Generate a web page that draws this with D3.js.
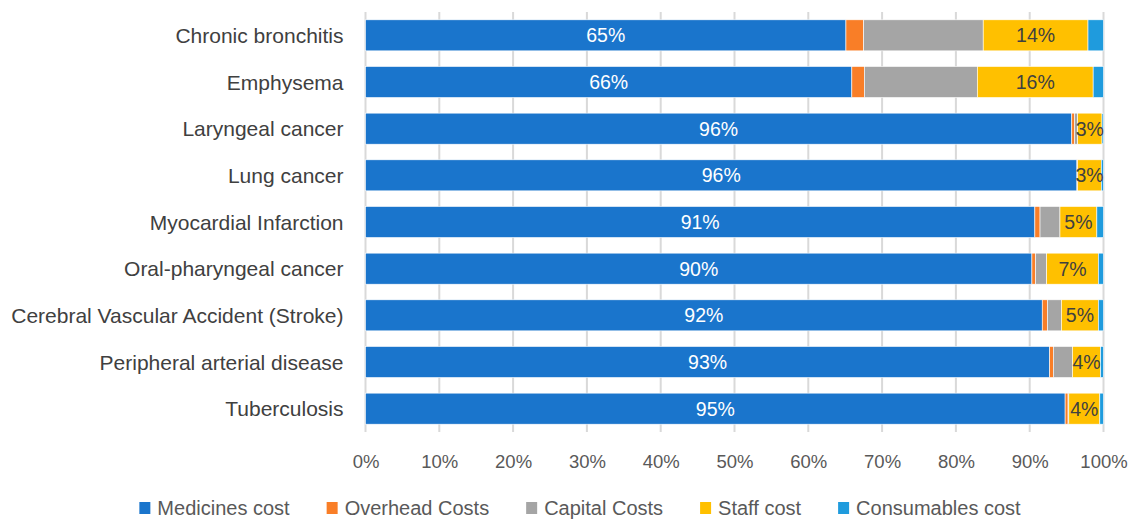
<!DOCTYPE html>
<html>
<head>
<meta charset="utf-8">
<script src="https://cdn.jsdelivr.net/npm/d3@7"></script>
<style>
  body { margin: 0; background: #fff; }
  text { font-family: "Liberation Sans", Arial, sans-serif; }
</style>
</head>
<body>
<svg id="chart"></svg>
<script>
var chartWidth = 1131;
var chartHeight = 522;
var padding = { top: 12, right: 27.5, bottom: 90, left: 365.5 };

var categories = [
  'Chronic bronchitis', 'Emphysema', 'Laryngeal cancer', 'Lung cancer',
  'Myocardial Infarction', 'Oral-pharyngeal cancer',
  'Cerebral Vascular Accident (Stroke)', 'Peripheral arterial disease', 'Tuberculosis'
];
var seriesNames = ['Medicines cost', 'Overhead Costs', 'Capital Costs', 'Staff cost', 'Consumables cost'];
var seriesColors = ['#1a75cc', '#f97e27', '#a5a5a5', '#ffc000', '#1f9bdd'];

var medicines   = [65.1, 65.9, 95.7, 96.4, 90.7, 90.3, 91.7, 92.7, 94.8];
var overhead    = [2.4, 1.7, 0.4, 0.1, 0.7, 0.5, 0.7, 0.5, 0.4];
var capital     = [16.2, 15.3, 0.4, 0.0, 2.7, 1.5, 1.9, 2.6, 0.1];
var staff       = [14.2, 15.7, 3.3, 3.2, 5.0, 7.0, 5.0, 3.8, 4.2];
var consumables = [2.1, 1.4, 0.2, 0.3, 0.9, 0.7, 0.7, 0.4, 0.5];

var medLabels   = ['65%', '66%', '96%', '96%', '91%', '90%', '92%', '93%', '95%'];
var staffLabels = ['14%', '16%', '3%', '3%', '5%', '7%', '5%', '4%', '4%'];

var tickValues = [0, 10, 20, 30, 40, 50, 60, 70, 80, 90, 100];

var rows = categories.map(function(c, i) {
  return { cat: c, vals: [medicines[i], overhead[i], capital[i], staff[i], consumables[i]],
           labels: [medLabels[i], null, null, staffLabels[i], null] };
});

var svg = d3.select('#chart')
    .attr('width', chartWidth)
    .attr('height', chartHeight);

var xScale = d3.scaleLinear()
    .domain([0, 100])
    .range([padding.left, chartWidth - padding.right]);

var yScale = d3.scaleBand()
    .domain(categories)
    .range([padding.top, chartHeight - padding.bottom])
    .paddingInner(0.335)
    .paddingOuter(0.1675);

// gridlines
svg.append('g')
  .selectAll('line')
  .data(tickValues)
  .enter()
  .append('line')
    .attr('x1', function(d) { return xScale(d); })
    .attr('x2', function(d) { return xScale(d); })
    .attr('y1', padding.top)
    .attr('y2', chartHeight - padding.bottom)
    .attr('stroke', '#d9d9d9')
    .attr('stroke-width', 2);

// bars
var rowG = svg.append('g')
  .selectAll('g')
  .data(rows)
  .enter()
  .append('g')
    .attr('transform', function(d) { return 'translate(0,' + yScale(d.cat) + ')'; });

rowG.each(function(row) {
  var g = d3.select(this);
  var acc = 0;
  var segs = row.vals.map(function(v, k) {
    var s = { x0: acc, x1: acc + v, k: k, label: row.labels[k] };
    acc += v;
    return s;
  });
  g.selectAll('rect')
    .data(segs)
    .enter()
    .append('rect')
      .attr('x', function(d) { return xScale(d.x0); })
      .attr('width', function(d) { return Math.max(0, xScale(d.x1) - xScale(d.x0)); })
      .attr('y', 0)
      .attr('height', yScale.bandwidth())
      .attr('fill', function(d) { return seriesColors[d.k]; })
      .attr('stroke', '#fff')
      .attr('stroke-width', 0.6);
  g.selectAll('text')
    .data(segs.filter(function(d) { return d.label; }))
    .enter()
    .append('text')
      .attr('x', function(d) { return (xScale(d.x0) + xScale(d.x1)) / 2; })
      .attr('y', yScale.bandwidth() / 2)
      .attr('dy', '0.36em')
      .attr('text-anchor', 'middle')
      .attr('font-size', 19.5)
      .attr('fill', function(d) { return d.k === 0 ? '#fff' : '#404040'; })
      .text(function(d) { return d.label; });
});

// category labels
svg.append('g')
  .selectAll('text')
  .data(categories)
  .enter()
  .append('text')
    .attr('x', padding.left - 22)
    .attr('y', function(d) { return yScale(d) + yScale.bandwidth() / 2; })
    .attr('dy', '0.36em')
    .attr('text-anchor', 'end')
    .attr('font-size', 21)
    .attr('fill', '#404040')
    .text(function(d) { return d; });

// x axis
var xAxis = d3.axisBottom(xScale)
    .tickValues(tickValues)
    .tickSize(0)
    .tickPadding(23)
    .tickFormat(function(d) { return d + '%'; });

var axisG = svg.append('g')
    .attr('transform', 'translate(0,' + (chartHeight - padding.bottom) + ')')
    .call(xAxis);
axisG.select('.domain').remove();
axisG.selectAll('text')
    .attr('font-size', 18.5)
    .attr('font-family', '"Liberation Sans", Arial, sans-serif')
    .attr('fill', '#595959');

// legend, laid out from measured text widths and centred
var legend = svg.append('g')
  .selectAll('g')
  .data(seriesNames)
  .enter()
  .append('g');
legend.append('rect')
    .attr('x', 0)
    .attr('y', -6)
    .attr('width', 11)
    .attr('height', 12)
    .attr('fill', function(d, i) { return seriesColors[i]; });
legend.append('text')
    .attr('x', 18)
    .attr('y', 0)
    .attr('dy', '0.36em')
    .attr('font-size', 20)
    .attr('fill', '#595959')
    .text(function(d) { return d; });

var widths = [];
legend.select('text').each(function() { widths.push(18 + this.getComputedTextLength()); });
var itemGap = 37;
var total = d3.sum(widths) + itemGap * (widths.length - 1);
var lx = 580 - total / 2;
legend.attr('transform', function(d, i) {
  var x = lx;
  lx += widths[i] + itemGap;
  return 'translate(' + x + ',' + 508 + ')';
});
</script>
</body>
</html>
